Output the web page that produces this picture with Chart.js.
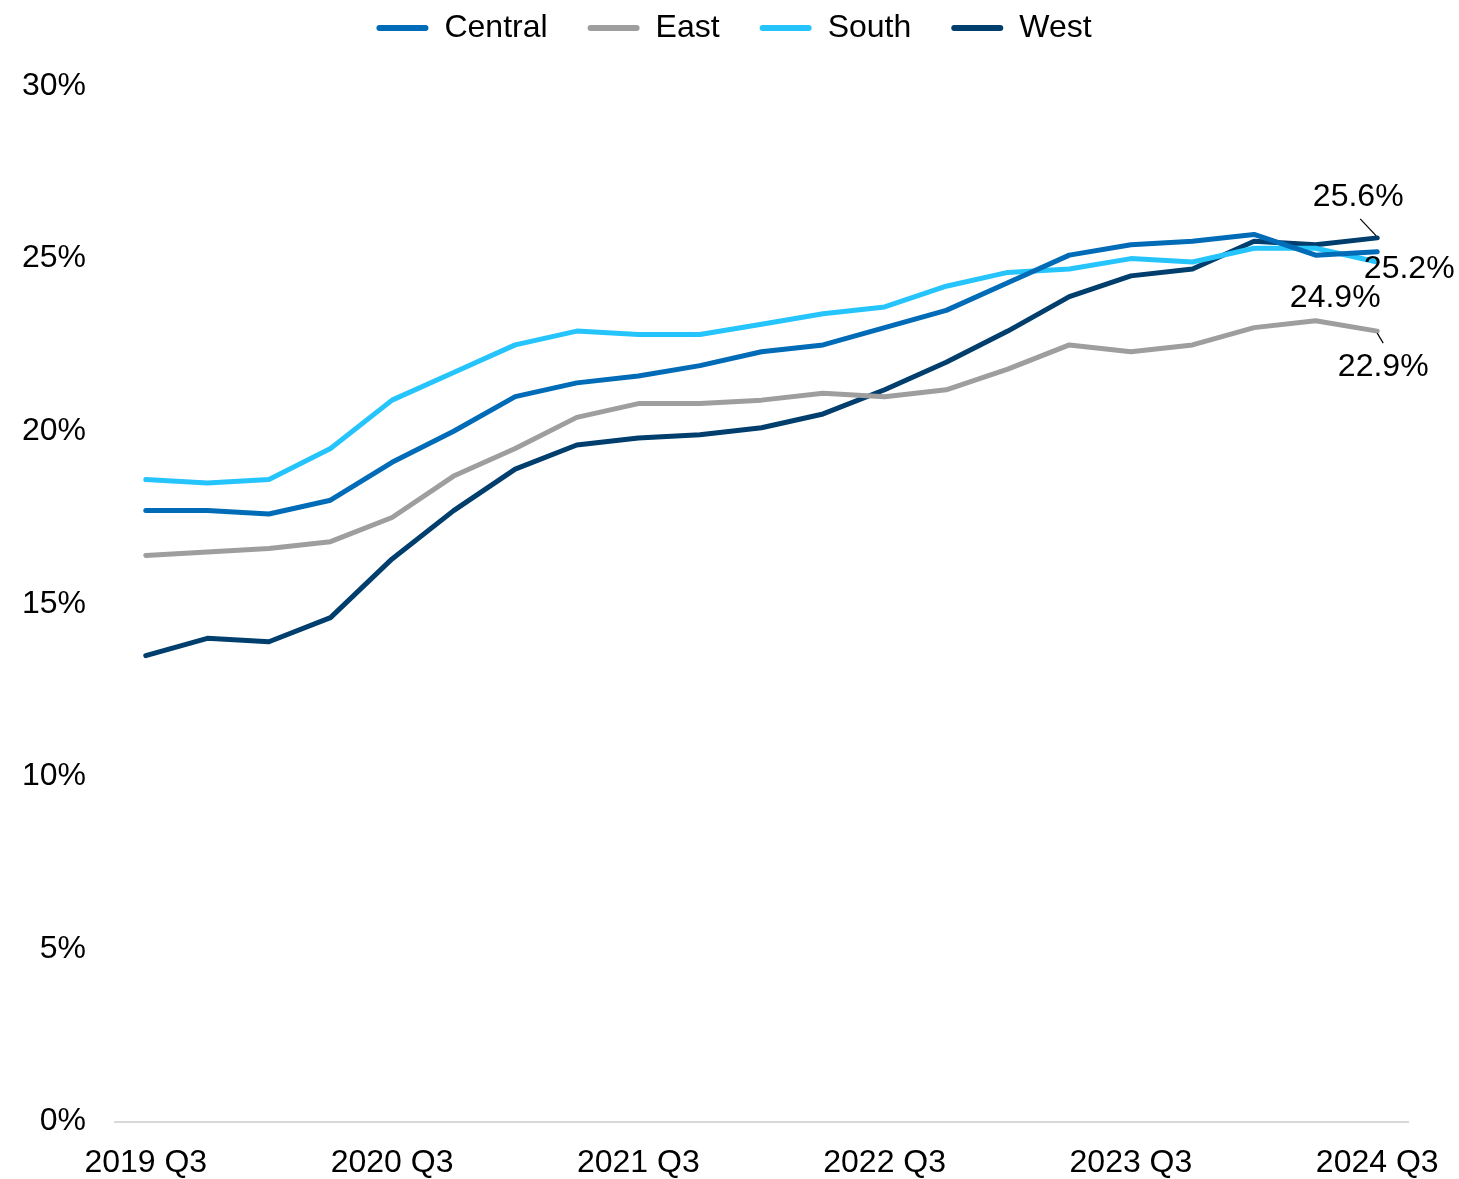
<!DOCTYPE html>
<html>
<head>
<meta charset="utf-8">
<script src="https://cdn.jsdelivr.net/npm/chart.js@4"></script>
<style>
  html, body { margin: 0; padding: 0; background: #fff; }
  #wrap { width: 1459px; height: 1179px; }
</style>
</head>
<body>
<div id="wrap"><canvas id="regionChart"></canvas></div>
<script>
const quarters = [
  "2019 Q3", "2019 Q4", "2020 Q1", "2020 Q2", "2020 Q3", "2020 Q4", "2021 Q1",
  "2021 Q2", "2021 Q3", "2021 Q4", "2022 Q1", "2022 Q2", "2022 Q3", "2022 Q4",
  "2023 Q1", "2023 Q2", "2023 Q3", "2023 Q4", "2024 Q1", "2024 Q2", "2024 Q3"
];

const central = [17.7, 17.7, 17.6, 18.0, 19.1, 20.0, 21.0, 21.4, 21.6, 21.9, 22.3, 22.5, 23.0, 23.5, 24.3, 25.1, 25.4, 25.5, 25.7, 25.1, 25.2];
const east = [16.4, 16.5, 16.6, 16.8, 17.5, 18.7, 19.5, 20.4, 20.8, 20.8, 20.9, 21.1, 21.0, 21.2, 21.8, 22.5, 22.3, 22.5, 23.0, 23.2, 22.9];
const south = [18.6, 18.5, 18.6, 19.5, 20.9, 21.7, 22.5, 22.9, 22.8, 22.8, 23.1, 23.4, 23.6, 24.2, 24.6, 24.7, 25.0, 24.9, 25.3, 25.3, 24.9];
const west = [13.5, 14.0, 13.9, 14.6, 16.3, 17.7, 18.9, 19.6, 19.8, 19.9, 20.1, 20.5, 21.2, 22.0, 22.9, 23.9, 24.5, 24.7, 25.5, 25.4, 25.6];

const yTicks = [0, 5, 10, 15, 20, 25, 30];

const FONT = "'Liberation Sans', Arial, sans-serif";

// end label offsets from the last point: [dx, dy] and leader line [x0, y0, x1, y1]
const endLabelPos = {
  Central: { text: [32, 17], leader: null },
  East: { text: [6, 36], leader: [0, 2, 6, 12] },
  South: { text: [-42, 36], leader: null },
  West: { text: [-19, -41], leader: [-1, -2, -17, -19] }
};

const endLabels = {
  id: "endLabels",
  afterDatasetsDraw(chart) {
    const ctx = chart.ctx;
    ctx.save();
    ctx.font = "32px " + FONT;
    ctx.fillStyle = "#000";
    ctx.textAlign = "center";
    ctx.textBaseline = "middle";
    chart.data.datasets.forEach((ds, i) => {
      const meta = chart.getDatasetMeta(i);
      const pt = meta.data[meta.data.length - 1];
      const pos = endLabelPos[ds.label];
      const value = ds.data[ds.data.length - 1];
      if (pos.leader) {
        const l = pos.leader;
        ctx.strokeStyle = "#000";
        ctx.lineWidth = 1.2;
        ctx.beginPath();
        ctx.moveTo(pt.x + l[0], pt.y + l[1]);
        ctx.lineTo(pt.x + l[2], pt.y + l[3]);
        ctx.stroke();
      }
      ctx.fillText(value.toFixed(1) + "%", pt.x + pos.text[0], pt.y + pos.text[1]);
    });
    ctx.restore();
  }
};

// leave a gap between the legend and the plot
const legendGap = {
  id: "legendGap",
  beforeInit(chart) {
    const fit = chart.legend.fit;
    chart.legend.fit = function () {
      fit.call(this);
      this.height += 32;
    };
  }
};

function line(label, data, color) {
  return {
    label: label,
    data: data,
    borderColor: color,
    backgroundColor: color,
    borderWidth: 5,
    borderCapStyle: "round",
    borderJoinStyle: "round",
    pointRadius: 0,
    tension: 0,
    fill: false
  };
}

new Chart(document.getElementById("regionChart"), {
  type: "line",
  data: {
    labels: quarters,
    datasets: [
      line("Central", central, "#006bb6"),
      line("East", east, "#9e9e9e"),
      line("South", south, "#25c4fc"),
      line("West", west, "#003e6d")
    ]
  },
  options: {
    responsive: true,
    maintainAspectRatio: false,
    animation: false,
    layout: { padding: { left: 9, right: 0, top: -28, bottom: -25 } },
    plugins: {
      tooltip: { enabled: false },
      legend: {
        position: "top",
        labels: {
          font: { family: FONT, size: 32 },
          color: "#000",
          boxWidth: 52,
          boxHeight: 6,
          padding: 40,
          useBorderRadius: true,
          borderRadius: 3,
          generateLabels(chart) {
            return Chart.defaults.plugins.legend.labels.generateLabels(chart).map((l) => {
              l.lineWidth = 0;
              return l;
            });
          }
        }
      }
    },
    scales: {
      x: {
        offset: true,
        afterFit(axis) {
          axis.paddingRight = 51;
        },
        grid: { display: false, drawTicks: false },
        border: { display: true, color: "#d9d9d9", width: 2 },
        ticks: {
          autoSkip: false,
          maxRotation: 0,
          padding: 22,
          color: "#000",
          font: { family: FONT, size: 32 },
          callback: function (val, idx) {
            return idx % 4 === 0 ? quarters[idx] : "";
          }
        }
      },
      y: {
        min: 0,
        max: 30,
        afterBuildTicks(axis) {
          axis.ticks = yTicks.map((v) => ({ value: v }));
        },
        afterFit(axis) {
          axis.width = 106;
        },
        grid: { display: false, drawTicks: false },
        border: { display: false },
        ticks: {
          padding: 29,
          color: "#000",
          font: { family: FONT, size: 32 },
          callback: (v) => v + "%"
        }
      }
    }
  },
  plugins: [endLabels, legendGap]
});
</script>
</body>
</html>
